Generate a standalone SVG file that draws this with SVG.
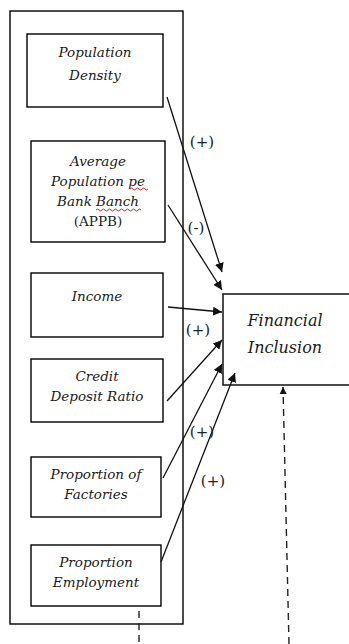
<svg xmlns="http://www.w3.org/2000/svg" width="349" height="644" viewBox="0 0 349 644">
<style>
.box{fill:#fff;stroke:#000;stroke-width:1.4}
.lbl{font-family:"DejaVu Serif","Liberation Serif",serif;font-style:italic;font-size:13.5px;fill:#1a1a1a;text-anchor:middle}
.up{font-family:"DejaVu Serif","Liberation Serif",serif;font-size:13.5px;fill:#1a1a1a;text-anchor:middle}
.big{font-family:"DejaVu Serif","Liberation Serif",serif;font-style:italic;font-size:16px;fill:#1a1a1a;text-anchor:middle}
.sign{font-family:"DejaVu Serif","Liberation Serif",serif;font-size:15px;fill:#222;text-anchor:middle}
.con{fill:none;stroke:#111;stroke-width:1.3}
.dash{fill:none;stroke:#222;stroke-width:1.4;stroke-dasharray:7 5}
.wave{fill:none;stroke:#d22;stroke-width:1}
</style>
<defs>
<marker id="ah" viewBox="0 0 10 10" refX="10" refY="5" markerWidth="9" markerHeight="9" markerUnits="userSpaceOnUse" orient="auto">
<path d="M0,0 L10,5 L0,10 Z" fill="#111"/>
</marker>
<marker id="ahs" viewBox="0 0 10 10" refX="10" refY="5" markerWidth="7" markerHeight="8" markerUnits="userSpaceOnUse" orient="auto">
<path d="M0,0 L10,5 L0,10 Z" fill="#111"/>
</marker>
</defs>
<rect id="container" x="10" y="11" width="173" height="613" fill="none" stroke="#000" stroke-width="1.4"/>
<g id="n-density">
<rect class="box" x="27" y="34" width="136" height="73"/>
<text class="lbl" x="95" y="57">Population</text>
<text class="lbl" x="95" y="80">Density</text>
</g>
<g id="n-appb">
<rect class="box" x="31" y="141" width="134" height="101"/>
<text class="lbl" x="98" y="166">Average</text>
<text class="lbl" x="98" y="186">Population pe</text>
<text class="lbl" x="98" y="206">Bank Banch</text>
<text class="up" x="98" y="226">(APPB)</text>
<path class="wave" d="M130,189 q1.5,-2 3,0 t3,0 t3,0 t3,0 t3,0 t3,0"/>
<path class="wave" d="M96,210 q1.5,-2 3,0 t3,0 t3,0 t3,0 t3,0 t3,0 t3,0 t3,0 t3,0 t3,0 t3,0 t3,0 t3,0 t3,0 t3,0"/>
</g>
<g id="n-income">
<rect class="box" x="31" y="273" width="132" height="64"/>
<text class="lbl" x="97" y="301">Income</text>
</g>
<g id="n-credit">
<rect class="box" x="31" y="359" width="132" height="63"/>
<text class="lbl" x="97" y="381">Credit</text>
<text class="lbl" x="97" y="401">Deposit Ratio</text>
</g>
<g id="n-factories">
<rect class="box" x="31" y="457" width="130" height="60"/>
<text class="lbl" x="96" y="479">Proportion of</text>
<text class="lbl" x="96" y="499">Factories</text>
</g>
<g id="n-employment">
<rect class="box" x="31" y="545" width="130" height="61"/>
<text class="lbl" x="96" y="567">Proportion</text>
<text class="lbl" x="96" y="587">Employment</text>
</g>
<g id="n-fi">
<rect class="box" x="223" y="294" width="140" height="91"/>
<text class="big" x="285" y="326">Financial</text>
<text class="big" x="285" y="353">Inclusion</text>
</g>
<g id="connectors">
<line class="con" x1="167" y1="97" x2="222" y2="272" marker-end="url(#ah)"/>
<line class="con" x1="168" y1="205" x2="222" y2="290" marker-end="url(#ah)"/>
<line class="con" x1="168" y1="307" x2="222" y2="312" marker-end="url(#ah)"/>
<line class="con" x1="167" y1="401" x2="222" y2="340" marker-end="url(#ah)"/>
<line class="con" x1="163" y1="478" x2="222" y2="364" marker-end="url(#ah)"/>
<line class="con" x1="161" y1="562" x2="235" y2="373" marker-end="url(#ah)"/>
<line class="dash" x1="139" y1="611" x2="139" y2="644"/>
<line class="dash" x1="289" y1="644" x2="283" y2="387" marker-end="url(#ahs)"/>
<text class="sign" x="202" y="147">(+)</text>
<text class="sign" x="196" y="233">(-)</text>
<text class="sign" x="198" y="335">(+)</text>
<text class="sign" x="202" y="437">(+)</text>
<text class="sign" x="213" y="486">(+)</text>
</g>
</svg>
